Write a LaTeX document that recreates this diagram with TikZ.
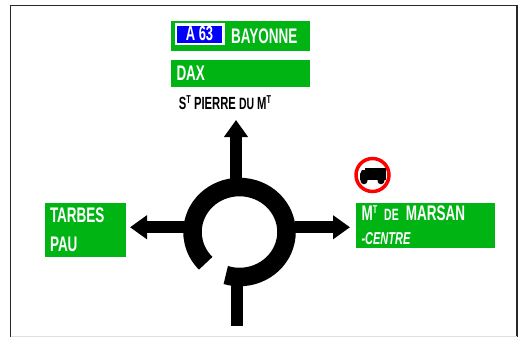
\documentclass[tikz,border=0pt]{standalone}
\usepackage{fontspec}
\newfontfamily\signfont[FakeStretch=0.64]{Liberation Sans}
\usetikzlibrary{arrows.meta, positioning}

\definecolor{signgreen}{RGB}{0,180,20}
\definecolor{plateblue}{RGB}{0,0,250}
\definecolor{framegrey}{RGB}{40,40,40}
\newcommand{\smallword}[1]{{\fontsize{9.3}{9.3}\selectfont #1}}
\newcommand{\raisedT}{\raisebox{0.33em}{\fontsize{6.5}{6.5}\selectfont T}}

\tikzset{
    sign/.style={rectangle,fill=signgreen,text=white,inner sep=0pt,align=left,
        font=\signfont\bfseries\fontsize{12}{12}\selectfont},
    road/.style={draw=black,line width=0.245cm},
    exit/.style={road,-{Triangle[length=0.34cm,width=0.46cm]}}
}

\begin{document}
\begin{tikzpicture}
\useasboundingbox (0,0) rectangle (10.52,6.74);

% frame
\draw [line width=0.03cm,framegrey] (0.21,0) -- (0.21,6.63) -- (10.34,6.63) -- (10.34,0);
\draw [line width=0.02cm,black!12] (0.21,0.02) -- (10.34,0.02);

% signs
\node (bayonne) at (4.81,6.02) [sign,minimum width=2.78cm,minimum height=0.6cm,text width=2.78cm] {\hspace*{1.2cm}BAYONNE};
\node (dax) at (4.81,5.27) [sign,minimum width=2.78cm,minimum height=0.54cm,text width=2.56cm] {DAX};
\node (plate) at (3.99,6.06) [draw=white,line width=0.05cm,fill=plateblue,text=white,inner sep=0pt,
    minimum width=0.95cm,minimum height=0.39cm,font=\signfont\bfseries\fontsize{11.5}{11.5}\selectfont] {\raisebox{-0.05cm}{A 63}};
\node (village) at (4.50,4.69) [inner sep=0pt,font=\signfont\bfseries\fontsize{10}{10}\selectfont]
    {S\raisedT{} PIERRE \smallword{DU} M\raisedT};
\node (tarbes) at (1.71,2.14) [sign,minimum width=1.62cm,minimum height=1.08cm,text width=1.42cm]
    {TARBES\\[0.15cm]PAU};
\node (marsan) at (8.51,2.23) [sign,minimum width=2.78cm,minimum height=0.90cm,text width=2.56cm]
    {M\raisedT{} \smallword{DE} MARSAN\\[0.06cm]{\fontsize{9.8}{9.8}\selectfont\itshape -CENTRE}};

% roundabout
\coordinate (ring) at (4.79,2.10);
\coordinate (north) at (4.72,4.34);
\coordinate (northfoot) at (4.72,3.10);
\coordinate (west) at (2.60,2.195);
\coordinate (westfoot) at (3.72,2.195);
\coordinate (east) at (7.00,2.195);
\coordinate (eastfoot) at (5.90,2.195);
\coordinate (south) at (4.74,0.22);
\coordinate (southfoot) at (4.74,1.06);

\draw [road] (southfoot) -- (south);
\draw [exit] (northfoot) -- (north);
\draw [exit] (westfoot) -- (west);
\draw [exit] (eastfoot) -- (east);
\draw [draw=black,line width=0.37cm] ([shift={(253:0.94 and 0.90)}]ring)
    arc [start angle=253,end angle=584,x radius=0.94,y radius=0.90];

% no lorries
\node (noentry) at (7.45,3.24) [circle,draw=red,line width=0.07cm,fill=white,minimum size=0.66cm,inner sep=0pt] {};
\begin{scope}[shift={(noentry)}]
    \fill (-0.15,0.15) rectangle (0.27,-0.10);
    \fill (-0.25,-0.10) -- (-0.25,0.02) -- (-0.21,0.10) -- (-0.15,0.10) -- (-0.15,-0.10) -- cycle;
    \fill (-0.17,-0.115) circle (0.07);
    \fill (0.17,-0.115) circle (0.07);
\end{scope}
\end{tikzpicture}
\end{document}
